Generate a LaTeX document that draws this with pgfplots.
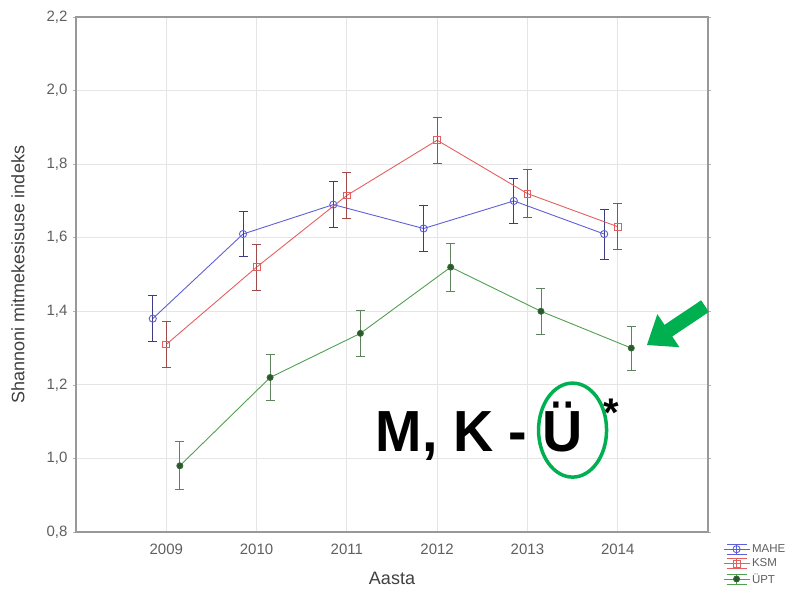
\documentclass[border=0pt]{standalone}
\usepackage{fontspec}
\setmainfont{Liberation Sans}
\usepackage{pgfplots}
\usepackage{pgfplotstable}
\pgfplotsset{compat=1.18}
\usetikzlibrary{arrows.meta}

\definecolor{cmahe}{RGB}{95,95,215}
\definecolor{cmaheE}{RGB}{60,60,130}
\definecolor{cksm}{RGB}{228,95,95}
\definecolor{cksmE}{RGB}{160,75,75}
\definecolor{cupt}{RGB}{80,160,80}
\definecolor{cuptE}{RGB}{95,130,95}
\definecolor{agreen}{RGB}{0,176,80}
\definecolor{tickgray}{RGB}{95,95,95}

\pgfplotstableread{
x y e
2008.85 1.38 0.062
2009.85 1.61 0.062
2010.85 1.69 0.063
2011.85 1.625 0.063
2012.85 1.70 0.062
2013.85 1.61 0.068
}\tmahe
\pgfplotstableread{
x y e
2009 1.31 0.063
2010 1.52 0.063
2011 1.715 0.062
2012 1.865 0.063
2013 1.72 0.065
2014 1.63 0.062
}\tksm
\pgfplotstableread{
x y e
2009.15 0.98 0.065
2010.15 1.22 0.063
2011.15 1.34 0.063
2012.15 1.52 0.065
2013.15 1.40 0.062
2014.15 1.30 0.060
}\tupt

\begin{document}
\begin{tikzpicture}[x=1pt,y=1pt]
\useasboundingbox (-76,-67) rectangle (723,532);
\begin{axis}[
  at={(0,0)}, anchor=south west, scale only axis,
  width=632pt, height=515pt,
  xmin=2008, xmax=2015, ymin=0.8, ymax=2.2,
  xtick={2009,2010,2011,2012,2013,2014},
  xticklabels={2009,2010,2011,2012,2013,2014},
  ytick={0.8,1.0,1.2,1.4,1.6,1.8,2.0,2.2},
  yticklabel style={/pgf/number format/fixed, /pgf/number format/fixed zerofill, /pgf/number format/precision=1, /pgf/number format/use comma, /pgf/number format/assume math mode=true, xshift=-2pt},
  ticklabel style={font=\fontsize{15}{17}\selectfont, text=tickgray},
  xticklabel style={yshift=-5pt},
  grid=major,
  major grid style={gray!20, line width=0.8pt},
  axis line style={gray!80, line width=1.5pt},
  tick align=outside, major tick length=3pt,
  y tick style={gray!60, line width=0.6pt},
  x tick style={draw=none},
  xlabel={Aasta},
  ylabel={Shannoni mitmekesisuse indeks},
  label style={font=\fontsize{18}{20}\selectfont, text=black!75},
  xlabel style={at={(0.5,0)}, anchor=center, yshift=-46pt},
  ylabel style={at={(0,0.5)}, anchor=center, yshift=58pt},
  clip=false,
  legend cell align=left,
  legend style={draw=none, fill=none, at={(1.022,-0.018)}, anchor=north west,
    font=\fontsize{11.5}{13}\selectfont, text=tickgray, row sep=1pt, inner sep=1pt},
  legend image code/.code={
    \draw[#1, mark=none] (0pt,0pt) -- (26pt,0pt);
    \draw[#1, mark=none] (3pt,5pt) -- (23pt,5pt) (3pt,-5pt) -- (23pt,-5pt);
    \draw[#1, mark=none] (13pt,-5pt) -- (13pt,5pt);
    \draw[#1, only marks] plot coordinates {(13pt,0pt)};
  },
  error bars/y dir=both, error bars/y explicit,
]
\addplot[color=cmahe, line width=0.9pt, mark=o, mark size=3.6pt, mark options={line width=0.9pt},
  error bars/error bar style={cmaheE, line width=0.9pt},
  error bars/error mark options={rotate=90, mark size=4.5pt, cmaheE, line width=0.9pt}]
  table[x=x, y=y, y error=e] {\tmahe};
\addlegendentry{MAHE}
\addplot[color=cksm, line width=0.9pt, mark=square, mark size=3.4pt, mark options={line width=0.9pt},
  error bars/error bar style={cksmE, line width=0.9pt},
  error bars/error mark options={rotate=90, mark size=4.5pt, cksmE, line width=0.9pt}]
  table[x=x, y=y, y error=e] {\tksm};
\addlegendentry{KSM}
\addplot[color=cupt, line width=0.9pt, mark=*, mark size=3pt, mark options={fill=cupt!55!black, draw=cupt!65!black},
  error bars/error bar style={cuptE, line width=0.9pt},
  error bars/error mark options={rotate=90, mark size=4.5pt, cuptE, line width=0.9pt}]
  table[x=x, y=y, y error=e] {\tupt};
\addlegendentry{ÜPT}

\node[anchor=base west, inner sep=0pt, xscale=0.96, font=\fontsize{58}{60}\selectfont\bfseries] at (axis cs:2011.32,1.018) {M, K - Ü};
\node[inner sep=0pt, font=\fontsize{40}{40}\selectfont\bfseries] at (axis cs:2013.93,1.125) {*};
\draw[agreen, line width=3.5pt] (axis cs:2013.5,1.077) ellipse [x radius=34pt, y radius=47pt];
\draw[agreen, line width=14pt, -{Triangle[width=38pt,length=26pt]}] (axis cs:2014.967,1.414) -- (axis cs:2014.322,1.308);
\end{axis}
\end{tikzpicture}
\end{document}
